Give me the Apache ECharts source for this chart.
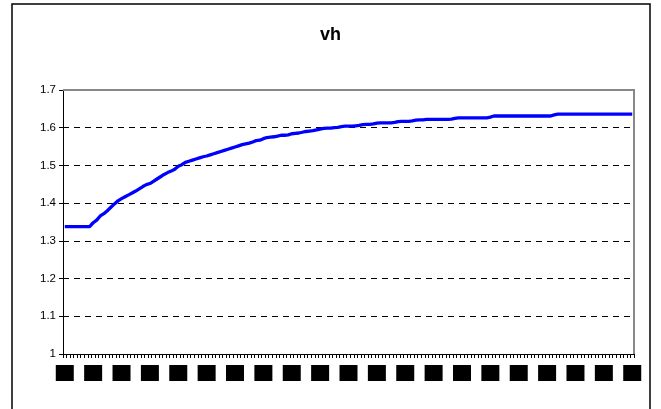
<!DOCTYPE html>
<html>
<head>
<meta charset="utf-8">
<script src="https://cdn.jsdelivr.net/npm/echarts@6/dist/echarts.min.js"></script>
<style>
html,body{margin:0;padding:0;background:#fff;}
#chart{width:661px;height:409px;}
</style>
</head>
<body>
<div id="chart"></div>
<script>
var titleText = 'vh';
var yTicks = [1, 1.1, 1.2, 1.3, 1.4, 1.5, 1.6, 1.7];
var vh = [
1.338,1.338,1.338,1.338,1.338,1.338,1.338,1.338,1.348,1.355,
1.366,1.372,1.380,1.389,1.398,1.406,1.412,1.417,1.422,
1.427,1.432,1.438,1.444,1.449,1.452,1.458,1.464,1.470,1.476,
1.481,1.485,1.490,1.498,1.502,1.508,1.511,1.514,1.517,
1.520,1.523,1.525,1.528,1.531,1.534,1.537,1.540,1.543,1.546,
1.549,1.552,1.555,1.557,1.559,1.562,1.566,1.567,1.571,
1.574,1.575,1.576,1.578,1.580,1.580,1.581,1.584,1.585,1.586,
1.588,1.590,1.591,1.592,1.594,1.596,1.598,1.599,1.599,
1.600,1.601,1.603,1.604,1.604,1.604,1.605,1.606,1.608,1.609,
1.609,1.610,1.612,1.613,1.613,1.613,1.613,1.614,1.616,1.617,
1.617,1.617,1.618,1.620,1.621,1.621,1.622,1.622,1.622,
1.622,1.622,1.622,1.622,1.623,1.625,1.626,1.626,1.626,1.626,
1.626,1.626,1.626,1.626,1.626,1.628,1.631,1.631,1.631,
1.631,1.631,1.631,1.631,1.631,1.631,1.631,1.631,1.631,1.631,
1.631,1.631,1.631,1.631,1.634,1.636,1.636,1.636,1.636,
1.636,1.636,1.636,1.636,1.636,1.636,1.636,1.636,1.636,1.636,
1.636,1.636,1.636,1.636,1.636,1.636,1.636,1.636
];
var categories = [];
for (var i = 0; i < vh.length; i++) categories.push(String(i + 1));

var chart = echarts.init(document.getElementById('chart'), null, {renderer: 'canvas'});
chart.setOption({
  animation: false,
  backgroundColor: '#fff',
  title: {
    text: titleText,
    left: 'center',
    top: 21,
    textStyle: {fontFamily: 'Liberation Sans', fontSize: 18, fontWeight: 'bold', color: '#000'}
  },
  graphic: [{
    type: 'rect',
    shape: {x: 12, y: 4, width: 638, height: 420},
    style: {fill: 'none', stroke: '#000', lineWidth: 1.5},
    silent: true, z: 100
  }, {
    type: 'polyline',
    shape: {points: [[63, 90], [634, 90], [634, 354]]},
    style: {stroke: '#888', lineWidth: 2, fill: 'none'},
    silent: true, z: 1
  }],
  grid: {left: 63, right: 27, top: 90, bottom: 55},
  xAxis: {
    type: 'category',
    data: categories,
    boundaryGap: true,
    axisLine: {lineStyle: {color: '#000', width: 1}},
    axisTick: {show: true, interval: 0, length: 4, lineStyle: {color: '#000'}},
    axisLabel: {
      interval: 7,
      margin: 11,
      showMaxLabel: true,
      formatter: function (v) { return '{b|' + v + '}'; },
      rich: {b: {backgroundColor: '#000', color: '#000', width: 18, height: 16, align: 'center', fontSize: 10}}
    },
    splitLine: {show: false}
  },
  yAxis: {
    type: 'value',
    min: 1, max: 1.7, interval: 0.1,
    axisLine: {show: true, lineStyle: {color: '#000', width: 1}},
    axisTick: {show: true, length: 4, lineStyle: {color: '#000'}},
    axisLabel: {
      color: '#000', fontFamily: 'Liberation Sans', fontSize: 11.5, margin: 7,
      formatter: function (v) { return String(Math.round(v * 10) / 10); }
    },
    splitLine: {show: true, lineStyle: {color: '#000', type: [6, 5], width: 1}}
  },
  series: [{
    type: 'line',
    data: vh,
    showSymbol: false,
    symbol: 'none',
    lineStyle: {color: '#0000FF', width: 3.3},
    z: 5
  }]
});
</script>
</body>
</html>
